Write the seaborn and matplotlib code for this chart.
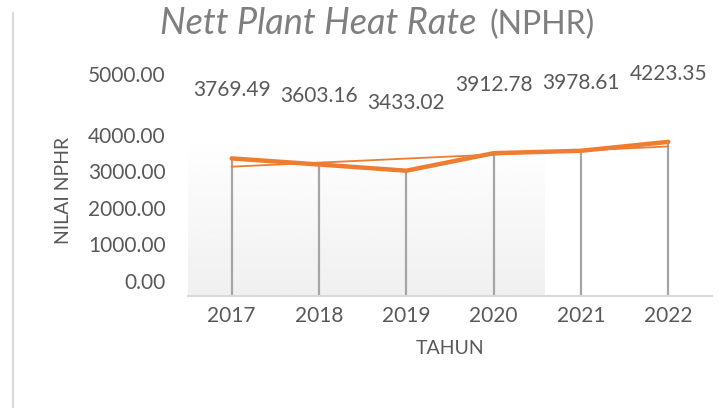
import numpy as np
import seaborn as sns
import matplotlib.pyplot as plt
import matplotlib.transforms as mtransforms
from matplotlib.lines import Line2D

# data dari grafik
tahun = ['2017', '2018', '2019', '2020', '2021', '2022']
nphr = [3769.49, 3603.16, 3433.02, 3912.78, 3978.61, 4223.35]
yticks = [0, 1000, 2000, 3000, 4000, 5000]

sns.set_style("white")
plt.rcParams['font.family'] = ['Lato', 'DejaVu Sans']

orange = '#ED7D31'
grey_txt = '#595959'

fig = plt.figure(figsize=(7.27, 4.08), dpi=100)
ax = fig.add_axes([188/727, 1 - 296/408, 524/727, 182.5/408])

# latar gradasi
grad = np.linspace(0.94, 1.0, 100).reshape(-1, 1)
ax.imshow(grad, cmap='gray', vmin=0, vmax=1, origin='lower', aspect='auto',
          extent=[-0.5, 3.58, 0, 4490], zorder=0)

# garis vertikal (drop lines)
x = np.arange(len(tahun))
ax.vlines(x, 0, nphr, color='#a5a5a5', lw=1.6, zorder=2)

# garis tren linear
sns.regplot(x=x, y=nphr, ci=None, scatter=False, ax=ax,
            line_kws={'color': orange, 'lw': 1.3, 'zorder': 3})

# garis utama
sns.lineplot(x=x, y=nphr, ax=ax, color=orange, lw=3.2, zorder=4)

for xi, v in zip(x, nphr):
    ax.annotate(f'{v:.2f}', (xi, v), xytext=(0, 49), textcoords='offset points',
                ha='center', va='center', fontsize=15, color=grey_txt)

ax.set_xlim(-0.5, 5.5)
ax.set_ylim(0, 5000)
ax.set_xticks(x)
ax.set_xticklabels(tahun)
ax.set_yticks(yticks)
ax.set_yticklabels([f'{t:.2f}' for t in yticks])
ax.tick_params(axis='both', length=0, labelsize=15, labelcolor=grey_txt)
ax.tick_params(axis='y', pad=16)
ax.tick_params(axis='x', pad=7)

# geser label sumbu y seperti di gambar asli
for lbl, t in zip(ax.get_yticklabels(), yticks):
    dy = 15 if t < 5000 else 39
    lbl.set_transform(lbl.get_transform() + mtransforms.ScaledTranslation(0, dy/100, fig.dpi_scale_trans))

for s in ['top', 'right', 'left']:
    ax.spines[s].set_visible(False)
ax.spines['bottom'].set_color('#d9d9d9')
ax.spines['bottom'].set_linewidth(1.5)
ax.set_facecolor('none')

ax.set_ylabel('NILAI NPHR', fontsize=14, color=grey_txt)
ax.set_xlabel('TAHUN', fontsize=14, color=grey_txt)
ax.yaxis.set_label_coords(-0.222, 0.58)
ax.xaxis.set_label_coords(0.5, -0.241)

# judul
fig.text(476/727, 1 - 34/408, 'Nett Plant Heat Rate', fontsize=26, style='italic',
         color='#7f7f7f', ha='right', va='baseline')
fig.text(489/727, 1 - 34/408, '(NPHR)', fontsize=23, color='#7f7f7f',
         ha='left', va='baseline')

# garis tepi kiri
fig.add_artist(Line2D([12.5/727, 12.5/727], [0, 1 - 13/408], color='#d9d9d9', lw=1.5))

fig.savefig('out.png', dpi=100)
